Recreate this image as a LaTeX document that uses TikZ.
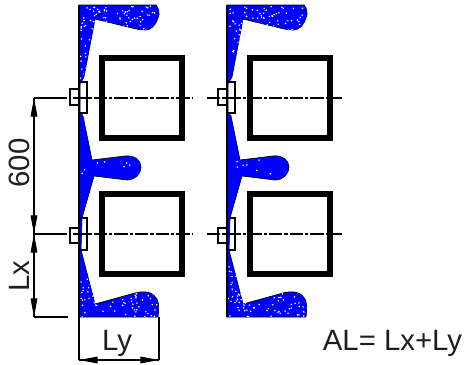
\documentclass[tikz,border=0pt]{standalone}
\usepackage{fontspec}
\setmainfont{Liberation Sans}
\usetikzlibrary{arrows.meta}
\definecolor{profblue}{RGB}{0,0,255}
\tikzset{
  profile/.style={fill=profblue,draw=black,line width=0.5pt,line join=round},
  wall/.style={draw=black,line width=1pt},
  tube/.style={draw=black,line join=miter},
  plate/.style={draw=black,line width=0.8pt},
  centre/.style={draw=black,line width=1pt,dash pattern=on 10pt off 1.5pt on 2.5pt off 1.5pt},
  dimline/.style={draw=black,line width=0.8pt},
  dimtip/.style={-{Triangle[length=14pt,width=5pt]}},
  label/.style={font=\fontsize{22}{24}\selectfont,text=black!88,inner sep=0pt},
}
\newcommand{\profpath}{(79,5) -- (156,5) .. controls (159,8) and (160,14) .. (158,18) .. controls (156,25) and (151,30) .. (146,30) .. controls (140,30) and (136,29) .. (132,28) -- (95,19) -- (84,77) -- (80,84) -- (80,112) -- (83,116) -- (92,160) -- (125,156) .. controls (134,155) and (141,160) .. (141,167) .. controls (141,174) and (135,180) .. (127,180) -- (94,176) -- (82,218) -- (81,250) -- (95,304) -- (135,293) .. controls (146,290) and (154,293) .. (157,299) .. controls (159,303) and (159,309) .. (158,317) -- (79,317) -- cycle}
\newcommand{\specks}[6]{% seed, count, x0, y0, w, h
  \pgfmathsetseed{#1}%
  \foreach \i in {1,...,#2}{%
    \pgfmathsetmacro{\sx}{#3+rnd*#5}%
    \pgfmathsetmacro{\sy}{#4+rnd*#6}%
    \fill[white] (\sx,\sy) circle (0.85);}%
}
\newcommand{\bay}[2]{% tube line width, seed
  \path[profile] \profpath;
  \begin{scope}
    \clip \profpath;
    \specks{#2}{70}{81}{6}{76}{25}
    \specks{\numexpr#2+1}{22}{80}{20}{15}{60}
    \specks{\numexpr#2+2}{7}{82}{160}{50}{18}
    \specks{\numexpr#2+3}{22}{80}{252}{14}{50}
    \specks{\numexpr#2+4}{55}{81}{292}{76}{25}
  \end{scope}
  \draw[wall] (79,5) -- (79,317);
  \draw[tube,line width=#1] (102,58) rectangle (182,138);
  \draw[tube,line width=#1] (102,194) rectangle (182,274);
  \draw[plate] (70,89) rectangle (79,105);
  \draw[plate] (79,82) rectangle (87,113);
  \draw[plate] (70,228) rectangle (79,243);
  \draw[plate] (79,218) rectangle (87,250);
}
\begin{document}
\begin{tikzpicture}[x=0.75pt,y=-0.75pt]
\useasboundingbox[fill=white] (0,0) rectangle (466,364);
% left bay
\begin{scope}
  \bay{3.95pt}{11}
\end{scope}
% right bay
\begin{scope}[xshift=111pt]
  \bay{4pt}{29}
\end{scope}
% centre lines
\coordinate (c1a) at (73,98);  \coordinate (c1b) at (193,98);
\coordinate (c2a) at (73,234); \coordinate (c2b) at (193,234);
\coordinate (c3a) at (207,98);  \coordinate (c3b) at (342,98);
\coordinate (c4a) at (207,234); \coordinate (c4b) at (342,234);
\draw[centre] (c1a) -- (c1b);
\draw[centre] (c2a) -- (c2b);
\draw[centre] (c3a) -- (c3b);
\draw[centre] (c4a) -- (c4b);
% vertical dimensions
\coordinate (d1) at (34,98);
\coordinate (d2) at (34,234);
\coordinate (d3) at (34,317);
\coordinate (e1) at (67,98);
\coordinate (e2) at (67,234);
\coordinate (e3) at (68,317);
\draw[dimline] (e1) -- (d1);
\draw[dimline] (e2) -- (d2);
\draw[dimline] (e3) -- (d3);
\draw[dimline] (d1) -- (d3);
\draw[dimline,dimtip] (34,117) -- (d1);
\draw[dimline,dimtip] (34,216) -- (d2);
\draw[dimline,dimtip] (34,252) -- (d2);
\draw[dimline,dimtip] (34,299) -- (d3);
% horizontal dimension
\coordinate (f1) at (79,317);
\coordinate (f2) at (159,317);
\coordinate (g1) at (79,360);
\coordinate (g2) at (159,360);
\draw[dimline] (f1) -- (g1);
\draw[dimline] (f2) -- (g2);
\draw[dimline] (g1) -- (g2);
\draw[dimline,dimtip] (97,360) -- (g1);
\draw[dimline,dimtip] (141,360) -- (g2);
% labels
\node[label,anchor=base,rotate=90] (t600) at (29,163) {600};
\node[label,anchor=base,rotate=90] (tlx) at (29,276) {Lx};
\node[label,anchor=base] (tly) at (117,350) {Ly};
\node[label,anchor=base] (tal) at (392.5,350) {AL= Lx+Ly};
\end{tikzpicture}
\end{document}
